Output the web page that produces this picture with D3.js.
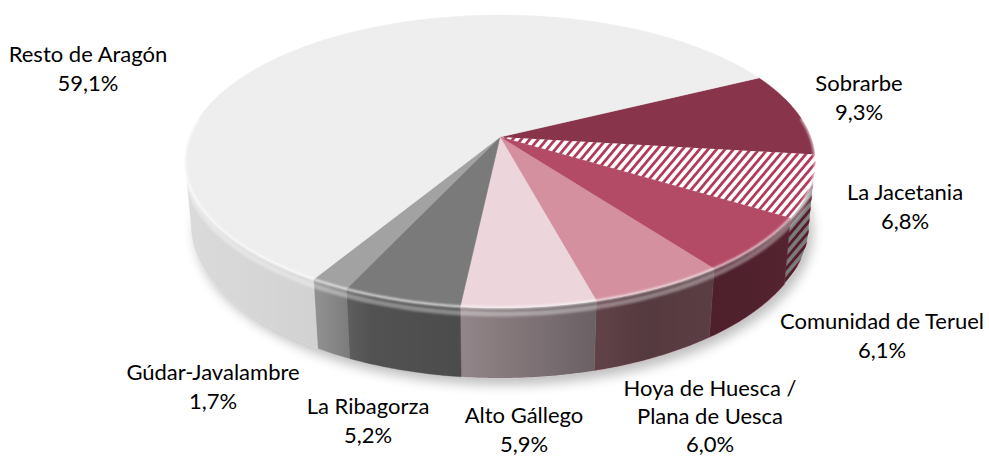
<!DOCTYPE html>
<html>
<head>
<meta charset="utf-8">
<script src="https://cdn.jsdelivr.net/npm/d3@7"></script>
<style>
  body { margin: 0; background: #fff; }
  text { font-family: Lato, "Open Sans", sans-serif; fill: #000; }
</style>
</head>
<body>
<div id="chart"></div>
<script>
// data
const names = ["Sobrarbe", "La Jacetania", "Comunidad de Teruel", "Hoya de Huesca /\nPlana de Uesca",
  "Alto Gállego", "La Ribagorza", "Gúdar-Javalambre", "Resto de Aragón"];
const shares = [9.3, 6.8, 6.1, 6.0, 5.9, 5.2, 1.7, 59.1];

// styles / layout
const colors = ["#88344b", "hatch", "#b34a66", "#d4909f", "#ecd6dc", "#7a7a7a", "#a2a2a2", "#eeeeee"];
const labelAt = [[859, 91], [905, 200], [882, 329], [710, 396], [524, 423], [368, 414], [213, 380], [88, 62]];

const width = 989, height = 456;
const cx = 500, cy = 137;          // apex of the pie on screen
const f = 1656, D = 5.33, h = 0.229;
const sa = 0.458, ca = Math.sqrt(1 - sa * sa);
const firstAngle = 63.5 * Math.PI / 180;

const fmt = d3.formatLocale({decimal: ",", thousands: ".", grouping: [3], currency: ["", "€"]}).format(".1f");

// perspective projection of a point on the pie rim (t clockwise from back), y = height
function proj(t, y) {
  const X = Math.sin(t), Z = Math.cos(t);
  const dist = D - y * sa + Z * ca;
  return [cx + f * X / dist, cy - f * (y * ca + Z * sa) / dist];
}
function arcPts(t0, t1, y) {
  const n = Math.max(2, Math.ceil(Math.abs(t1 - t0) / 0.01));
  return d3.range(n + 1).map(i => proj(t0 + (t1 - t0) * i / n, y));
}

const svg = d3.select("#chart").append("svg")
  .attr("width", width).attr("height", height);

const defs = svg.append("defs");
const pat = defs.append("pattern").attr("id", "hatch")
  .attr("patternUnits", "userSpaceOnUse").attr("width", 6.5).attr("height", 6.5)
  .attr("patternTransform", "rotate(40)");
pat.append("rect").attr("width", 6.5).attr("height", 6.5).attr("fill", "#fff");
pat.append("rect").attr("width", 2.8).attr("height", 6.5).attr("fill", "#b23b5b");

const shade = defs.append("linearGradient").attr("id", "wallShade")
  .attr("gradientUnits", "userSpaceOnUse").attr("x1", 180).attr("x2", 820).attr("y1", 0).attr("y2", 0);
[[0, 0.08], [0.22, 0.12], [0.3, 0.33], [0.44, 0.38], [0.625, 0.53], [0.73, 0.6], [0.9, 0.55], [1, 0.5]]
  .forEach(s => shade.append("stop").attr("offset", s[0]).attr("stop-color", "#000").attr("stop-opacity", s[1]));

defs.append("filter").attr("id", "blur").attr("x", "-20%").attr("y", "-20%").attr("width", "140%").attr("height", "140%")
  .append("feGaussianBlur").attr("stdDeviation", 6);
defs.append("filter").attr("id", "soft")
  .append("feGaussianBlur").attr("stdDeviation", 1.2);

const pie = d3.pie().sort(null).value(d => d)
  .startAngle(firstAngle).endAngle(firstAngle + 2 * Math.PI);
const arcs = pie(shares);

const line = d3.line();
const fillOf = i => colors[i] === "hatch" ? "url(#hatch)" : colors[i];

// shadow under the pie
const lo = Math.acos(-1 / 6), hi = 2 * Math.PI - lo;
svg.append("path")
  .attr("d", line(arcPts(0, 2 * Math.PI, -h).map(p => [p[0] + 4, p[1] + 7])) + "Z")
  .attr("fill", "#000").attr("opacity", 0.25).attr("filter", "url(#blur)");

// visible side walls
const walls = [];
arcs.forEach((a, i) => {
  [0, 2 * Math.PI].forEach(off => {
    const t0 = Math.max(a.startAngle, lo + off), t1 = Math.min(a.endAngle, hi + off);
    if (t1 > t0) walls.push({i, t0, t1});
  });
});
const wallPath = w => line(arcPts(w.t0, w.t1, 0).concat(arcPts(w.t1, w.t0, -h))) + "Z";
const gWall = svg.append("g");
gWall.selectAll("path.wall").data(walls).join("path").attr("class", "wall")
  .attr("d", wallPath).attr("fill", w => fillOf(w.i))
  .attr("stroke", w => fillOf(w.i)).attr("stroke-width", 0.5);
gWall.selectAll("path.shade").data(walls).join("path").attr("class", "shade")
  .attr("d", wallPath).attr("fill", "url(#wallShade)");

// rounded top edge highlight on the walls
svg.append("path")
  .attr("d", line(arcPts(lo, hi, -0.02)))
  .attr("fill", "none").attr("stroke", "#fff").attr("stroke-width", 5)
  .attr("opacity", 0.35).attr("filter", "url(#soft)");

// top faces
svg.append("g").selectAll("path").data(arcs).join("path")
  .attr("d", (a) => line([[cx, cy]].concat(arcPts(a.startAngle, a.endAngle, 0))) + "Z")
  .attr("fill", (a, i) => fillOf(i))
  .attr("stroke", (a, i) => colors[i] === "hatch" ? "none" : colors[i]).attr("stroke-width", 0.5);

// bevel highlight on the rim of the top face
svg.append("path")
  .attr("d", line(arcPts(lo - 0.3, hi + 0.3, 0.0)))
  .attr("fill", "none").attr("stroke", "#fff").attr("stroke-width", 2.5)
  .attr("opacity", 0.7).attr("filter", "url(#soft)");

// labels
const lab = svg.append("g").attr("font-size", 22).attr("text-anchor", "middle");
names.forEach((n, i) => {
  const lines = n.split("\n").concat([fmt(shares[i]) + "%"]);
  const t = lab.append("text").attr("x", labelAt[i][0]).attr("y", labelAt[i][1]);
  lines.forEach((s, k) => t.append("tspan").attr("x", labelAt[i][0]).attr("dy", k ? (i === 3 ? 28 : 29) : 0).text(s));
});
</script>
</body>
</html>
